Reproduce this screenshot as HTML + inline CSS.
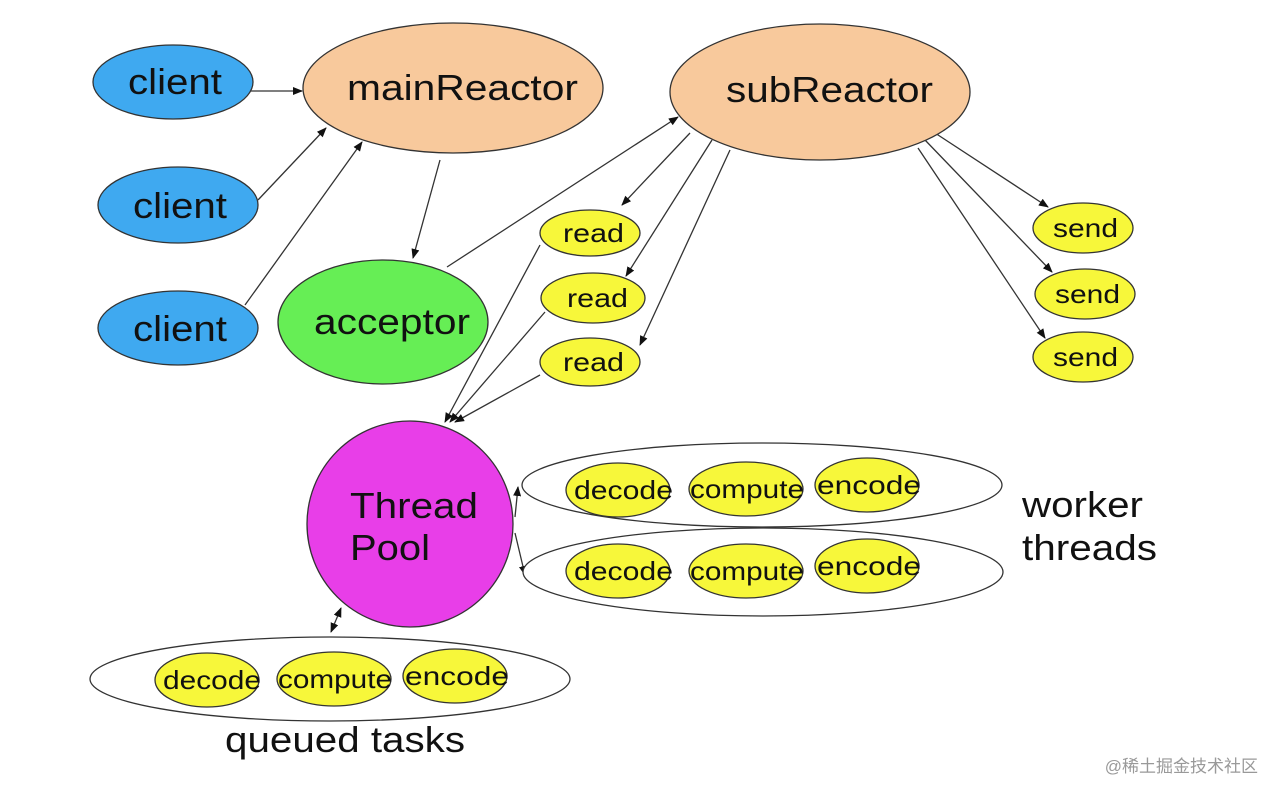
<!DOCTYPE html>
<html><head><meta charset="utf-8"><style>
html,body{margin:0;padding:0;background:#fff;}
svg{display:block;}
text{font-family:"Liberation Sans","DejaVu Sans",sans-serif;fill:#111;}
</style></head><body>
<svg width="1280" height="797" viewBox="0 0 1280 797" xmlns="http://www.w3.org/2000/svg">
<defs>
<marker id="a" markerWidth="10" markerHeight="8" refX="9" refY="4" orient="auto" markerUnits="userSpaceOnUse">
<path d="M0,0 L10,4 L0,8 z" fill="#111"/></marker>
</defs>
<g stroke="#333" stroke-width="1.3" fill="none" marker-end="url(#a)">
<line x1="245" y1="91" x2="302" y2="91"/>
<line x1="258" y1="200" x2="326" y2="128"/>
<line x1="245" y1="305" x2="362" y2="142"/>
<line x1="440" y1="160" x2="413" y2="258"/>
<line x1="447" y1="267" x2="678" y2="117"/>
<line x1="690" y1="133" x2="622" y2="205"/>
<line x1="712" y1="140" x2="626" y2="276"/>
<line x1="730" y1="150" x2="640" y2="345"/>
<line x1="935" y1="133" x2="1048" y2="207"/>
<line x1="925" y1="140" x2="1052" y2="272"/>
<line x1="918" y1="148" x2="1045" y2="338"/>
<line x1="540" y1="245" x2="445" y2="422"/>
<line x1="545" y1="312" x2="450" y2="422"/>
<line x1="540" y1="375" x2="455" y2="422"/>
<line x1="515" y1="517" x2="518" y2="487"/>
<line x1="515" y1="533" x2="525" y2="575"/>
<line x1="336" y1="620" x2="341" y2="608"/>
<line x1="336" y1="620" x2="331" y2="632"/>
</g>
<g stroke="#333" stroke-width="1.3">
<ellipse cx="173" cy="82" rx="80" ry="37" fill="#3fa9f0"/>
<ellipse cx="178" cy="205" rx="80" ry="38" fill="#3fa9f0"/>
<ellipse cx="178" cy="328" rx="80" ry="37" fill="#3fa9f0"/>
<ellipse cx="453" cy="88" rx="150" ry="65" fill="#f8c99c"/>
<ellipse cx="820" cy="92" rx="150" ry="68" fill="#f8c99c"/>
<ellipse cx="383" cy="322" rx="105" ry="62" fill="#66ee55"/>
<g fill="#f7f73a">
<ellipse cx="590" cy="233" rx="50" ry="23"/>
<ellipse cx="593" cy="298" rx="52" ry="25"/>
<ellipse cx="590" cy="362" rx="50" ry="24"/>
<ellipse cx="1083" cy="228" rx="50" ry="25"/>
<ellipse cx="1085" cy="294" rx="50" ry="25"/>
<ellipse cx="1083" cy="357" rx="50" ry="25"/>
</g>
<circle cx="410" cy="524" r="103" fill="#e83ee8"/>
<g fill="#fff">
<ellipse cx="762" cy="485" rx="240" ry="42"/>
<ellipse cx="763" cy="572" rx="240" ry="44"/>
<ellipse cx="330" cy="679" rx="240" ry="42"/>
</g>
<g fill="#f7f73a">
<ellipse cx="618" cy="490" rx="52" ry="27"/>
<ellipse cx="746" cy="489" rx="57" ry="27"/>
<ellipse cx="867" cy="485" rx="52" ry="27"/>
<ellipse cx="618" cy="571" rx="52" ry="27"/>
<ellipse cx="746" cy="571" rx="57" ry="27"/>
<ellipse cx="867" cy="566" rx="52" ry="27"/>
<ellipse cx="207" cy="680" rx="52" ry="27"/>
<ellipse cx="334" cy="679" rx="57" ry="27"/>
<ellipse cx="455" cy="676" rx="52" ry="27"/>
</g>
</g>
<g font-size="36" lengthAdjust="spacingAndGlyphs">
<text x="128" y="94" textLength="94" lengthAdjust="spacingAndGlyphs">client</text>
<text x="133" y="218" textLength="94" lengthAdjust="spacingAndGlyphs">client</text>
<text x="133" y="341" textLength="94" lengthAdjust="spacingAndGlyphs">client</text>
<text x="347" y="100" textLength="231" lengthAdjust="spacingAndGlyphs">mainReactor</text>
<text x="726" y="102" textLength="207" lengthAdjust="spacingAndGlyphs">subReactor</text>
<text x="314" y="334" textLength="156" lengthAdjust="spacingAndGlyphs">acceptor</text>
<text x="350" y="518" textLength="128" lengthAdjust="spacingAndGlyphs">Thread</text>
<text x="350" y="560" textLength="80" lengthAdjust="spacingAndGlyphs">Pool</text>
<text x="1022" y="517" textLength="121" lengthAdjust="spacingAndGlyphs">worker</text>
<text x="1022" y="560" textLength="135" lengthAdjust="spacingAndGlyphs">threads</text>
<text x="225" y="752" textLength="240" lengthAdjust="spacingAndGlyphs">queued tasks</text>
</g>
<g font-size="26">
<text x="563" y="242" textLength="61" lengthAdjust="spacingAndGlyphs">read</text>
<text x="567" y="307" textLength="61" lengthAdjust="spacingAndGlyphs">read</text>
<text x="563" y="371" textLength="61" lengthAdjust="spacingAndGlyphs">read</text>
<text x="1053" y="237" textLength="65" lengthAdjust="spacingAndGlyphs">send</text>
<text x="1055" y="303" textLength="65" lengthAdjust="spacingAndGlyphs">send</text>
<text x="1053" y="366" textLength="65" lengthAdjust="spacingAndGlyphs">send</text>
<text x="574" y="499" textLength="99" lengthAdjust="spacingAndGlyphs">decode</text>
<text x="690" y="498" textLength="114" lengthAdjust="spacingAndGlyphs">compute</text>
<text x="817" y="494" textLength="104" lengthAdjust="spacingAndGlyphs">encode</text>
<text x="574" y="580" textLength="99" lengthAdjust="spacingAndGlyphs">decode</text>
<text x="690" y="580" textLength="114" lengthAdjust="spacingAndGlyphs">compute</text>
<text x="817" y="575" textLength="104" lengthAdjust="spacingAndGlyphs">encode</text>
<text x="163" y="689" textLength="98" lengthAdjust="spacingAndGlyphs">decode</text>
<text x="278" y="688" textLength="114" lengthAdjust="spacingAndGlyphs">compute</text>
<text x="405" y="685" textLength="104" lengthAdjust="spacingAndGlyphs">encode</text>
</g>
<text x="1258" y="772" font-size="17" text-anchor="end" style="fill:#999;font-family:'Liberation Sans','Noto Sans CJK SC',sans-serif">@稀土掘金技术社区</text>
</svg>
</body></html>
